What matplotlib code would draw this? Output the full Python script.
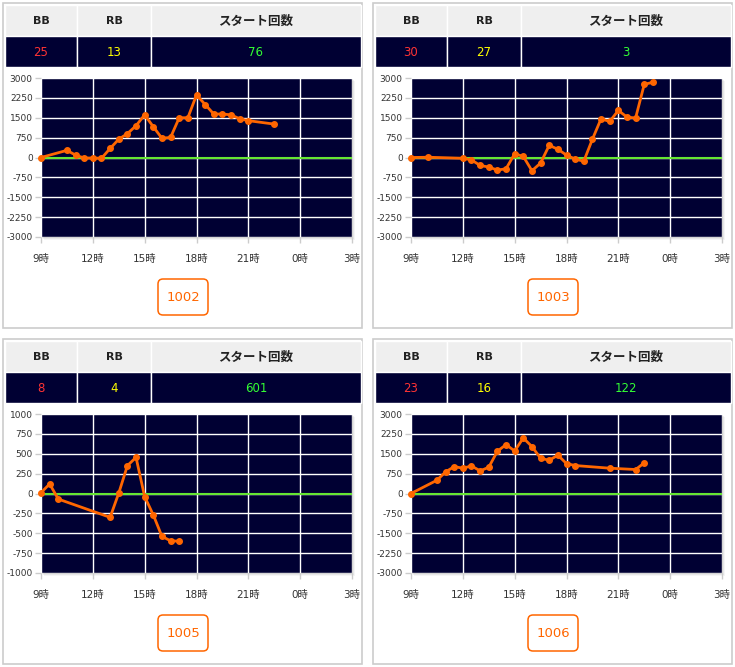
import matplotlib.pyplot as plt
from matplotlib.patches import Rectangle, FancyBboxPatch

plt.rcParams['font.family'] = ['DejaVu Sans', 'Noto Sans CJK JP']

W, H = 735, 667

# machine summary
machines = ['1002', '1003', '1005', '1006']
bb = [25, 30, 8, 23]
rb = [13, 27, 4, 16]
starts = [76, 3, 601, 122]
headers = ['BB', 'RB', 'スタート回数']
header_sizes = [8, 8, 9]

# graph data (hour of day, difference)
hours_1002 = [9.0, 10.5, 11.0, 11.5, 12.0, 12.5, 13.0, 13.5, 14.0, 14.5, 15.0, 15.5,
              16.0, 16.5, 17.0, 17.5, 18.0, 18.5, 19.0, 19.5, 20.0, 20.5, 21.0, 22.5]
vals_1002 = [0, 270, 90, -20, -20, -30, 340, 690, 900, 1200, 1610, 1160,
             725, 760, 1500, 1500, 2360, 2000, 1640, 1640, 1610, 1460, 1390, 1260]

hours_1003 = [9.0, 10.0, 12.0, 12.5, 13.0, 13.5, 14.0, 14.5, 15.0, 15.5, 16.0, 16.5,
              17.0, 17.5, 18.0, 18.5, 19.0, 19.5, 20.0, 20.5, 21.0, 21.5, 22.0, 22.5, 23.0]
vals_1003 = [0, 10, -30, -90, -300, -360, -475, -425, 140, 40, -500, -210,
             460, 310, 90, -60, -140, 690, 1460, 1360, 1775, 1525, 1490, 2760, 2840]

hours_1005 = [9.0, 9.5, 10.0, 13.0, 13.5, 14.0, 14.5, 15.0, 15.5, 16.0, 16.5, 17.0]
vals_1005 = [10, 120, -70, -300, 5, 350, 455, -40, -270, -540, -595, -600]

hours_1006 = [9.0, 10.5, 11.0, 11.5, 12.0, 12.5, 13.0, 13.5, 14.0, 14.5, 15.0, 15.5,
              16.0, 16.5, 17.0, 17.5, 18.0, 18.5, 20.5, 22.0, 22.5]
vals_1006 = [0, 500, 815, 1015, 955, 1040, 855, 990, 1595, 1845, 1605, 2095,
             1770, 1330, 1255, 1445, 1130, 1055, 955, 905, 1155]

series = [(hours_1002, vals_1002), (hours_1003, vals_1003),
          (hours_1005, vals_1005), (hours_1006, vals_1006)]
y_limits = [3000, 3000, 1000, 3000]

x_ticks = [9, 12, 15, 18, 21, 24, 27]
x_labels = ['9時', '12時', '15時', '18時', '21時', '0時', '3時']

NAVY = '#000033'
ORANGE = '#ff6600'

fig = plt.figure(figsize=(W / 100, H / 100), dpi=100)
bg = fig.add_axes([0, 0, 1, 1])
bg.set_xlim(0, W)
bg.set_ylim(H, 0)
bg.axis('off')

origins = [(3, 3), (373, 3), (3, 339), (373, 339)]
value_colors = ['#ff3333', '#ffff00', '#33ff33']
cols = [(2, 74), (74, 148), (148, 358)]

for i, (ox, oy) in enumerate(origins):
    # panel frame
    bg.add_patch(Rectangle((ox, oy), 359, 325, facecolor='white',
                           edgecolor='#cccccc', lw=1.2))
    # table
    values = [bb[i], rb[i], starts[i]]
    for j, (x0, x1) in enumerate(cols):
        bg.add_patch(Rectangle((ox + x0, oy + 2), x1 - x0, 31, facecolor='#efefef',
                               edgecolor='white', lw=1))
        bg.add_patch(Rectangle((ox + x0, oy + 33), x1 - x0, 31, facecolor=NAVY,
                               edgecolor='white', lw=1))
        cx = ox + (x0 + x1) / 2
        bg.text(cx, oy + 18, headers[j], ha='center', va='center',
                fontsize=header_sizes[j], fontweight='bold', color='#222222')
        bg.text(cx, oy + 49, str(values[j]), ha='center', va='center',
                fontsize=8.5, color=value_colors[j])

    # plot shadow
    for k, a in [(3, 0.08), (2, 0.12), (1, 0.18)]:
        bg.add_patch(Rectangle((ox + 38 + k, oy + 75 + k), 311, 159,
                               facecolor='#888888', alpha=a, lw=0))

    # button
    bg.add_patch(FancyBboxPatch((ox + 155, oy + 276), 50, 36,
                                boxstyle='round,pad=0,rounding_size=5',
                                facecolor='white', edgecolor=ORANGE, lw=1.1))
    bg.text(ox + 180, oy + 294.5, machines[i], ha='center', va='center',
            fontsize=9.5, color=ORANGE)

    # chart
    ax = fig.add_axes([(ox + 38) / W, 1 - (oy + 234) / H, 311 / W, 159 / H])
    ax.set_facecolor(NAVY)
    lim = y_limits[i]
    step = lim / 4
    yt = [-lim + step * k for k in range(9)]
    ax.set_xlim(9, 27)
    ax.set_ylim(-lim, lim)
    ax.set_yticks(yt)
    ax.set_yticklabels([f'{int(v)}' for v in yt])
    ax.set_xticks(x_ticks)
    ax.set_xticklabels(x_labels)
    ax.grid(True, color='white', lw=1)
    ax.set_axisbelow(True)
    for s in ax.spines.values():
        s.set_visible(False)
    ax.tick_params(axis='both', colors='#cccccc', labelcolor='#333333',
                   labelsize=6.5, length=4, width=1)
    ax.tick_params(axis='y', pad=2)
    ax.tick_params(axis='x', pad=8, labelsize=7.5)
    ax.axhline(0, color='#66e633', lw=1.5, zorder=2)
    hx, hy = series[i]
    ax.plot(hx, hy, color=ORANGE, lw=2.0, marker='o', ms=4, zorder=3,
            clip_on=False)

fig.savefig('out.png', dpi=100)
